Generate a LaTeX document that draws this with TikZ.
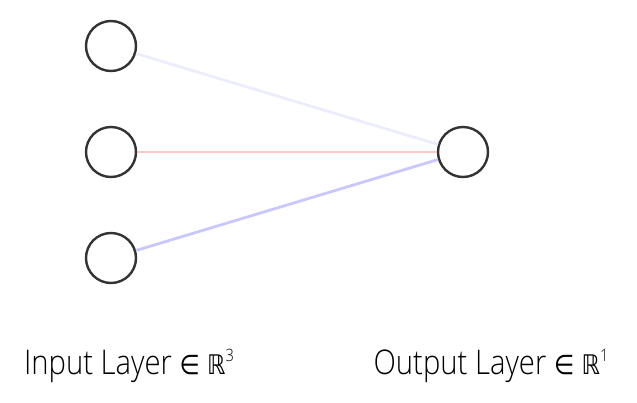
\documentclass[tikz,border=0pt]{standalone}
\usepackage{fontspec}
\setmainfont{Open Sans Light}
\newfontfamily\symfont{DejaVu Sans}
\newcommand\dimsup[1]{\raisebox{13pt}{\fontsize{17}{18}\selectfont #1}}
\newcommand\inreal{\ {\symfont\fontsize{27}{30}\selectfont ∈\ ℝ}}
\begin{document}
\begin{tikzpicture}[x=1pt,y=-1pt,
  neuron/.style={circle,draw=black!80,line width=2.4pt,minimum size=50pt,inner sep=0pt},
  weight/.style={line width=2.8pt},
  layerlabel/.style={font=\fontsize{34}{38}\selectfont,anchor=base,inner sep=0pt,xscale=0.86,transform shape}]
  \useasboundingbox (0,0) rectangle (637,402);
  \definecolor{wfaint}{RGB}{236,236,255}
  \definecolor{wred}{RGB}{255,198,198}
  \definecolor{wblue}{RGB}{200,200,255}
  % input layer
  \node[neuron] (i1) at (111,46) {};
  \node[neuron] (i2) at (111,152) {};
  \node[neuron] (i3) at (111,258) {};
  % output layer
  \node[neuron] (o1) at (463,152) {};
  % weighted connections
  \draw[weight,wfaint] (i1) -- (o1);
  \draw[weight,wred] (i2) -- (o1);
  \draw[weight,wblue] (i3) -- (o1);
  % layer captions
  \node[layerlabel] (lin) at (129,374) {Input Layer\inreal\dimsup{3}};
  \node[layerlabel] (lout) at (491,374) {Output Layer\inreal\dimsup{1}};
\end{tikzpicture}
\end{document}
